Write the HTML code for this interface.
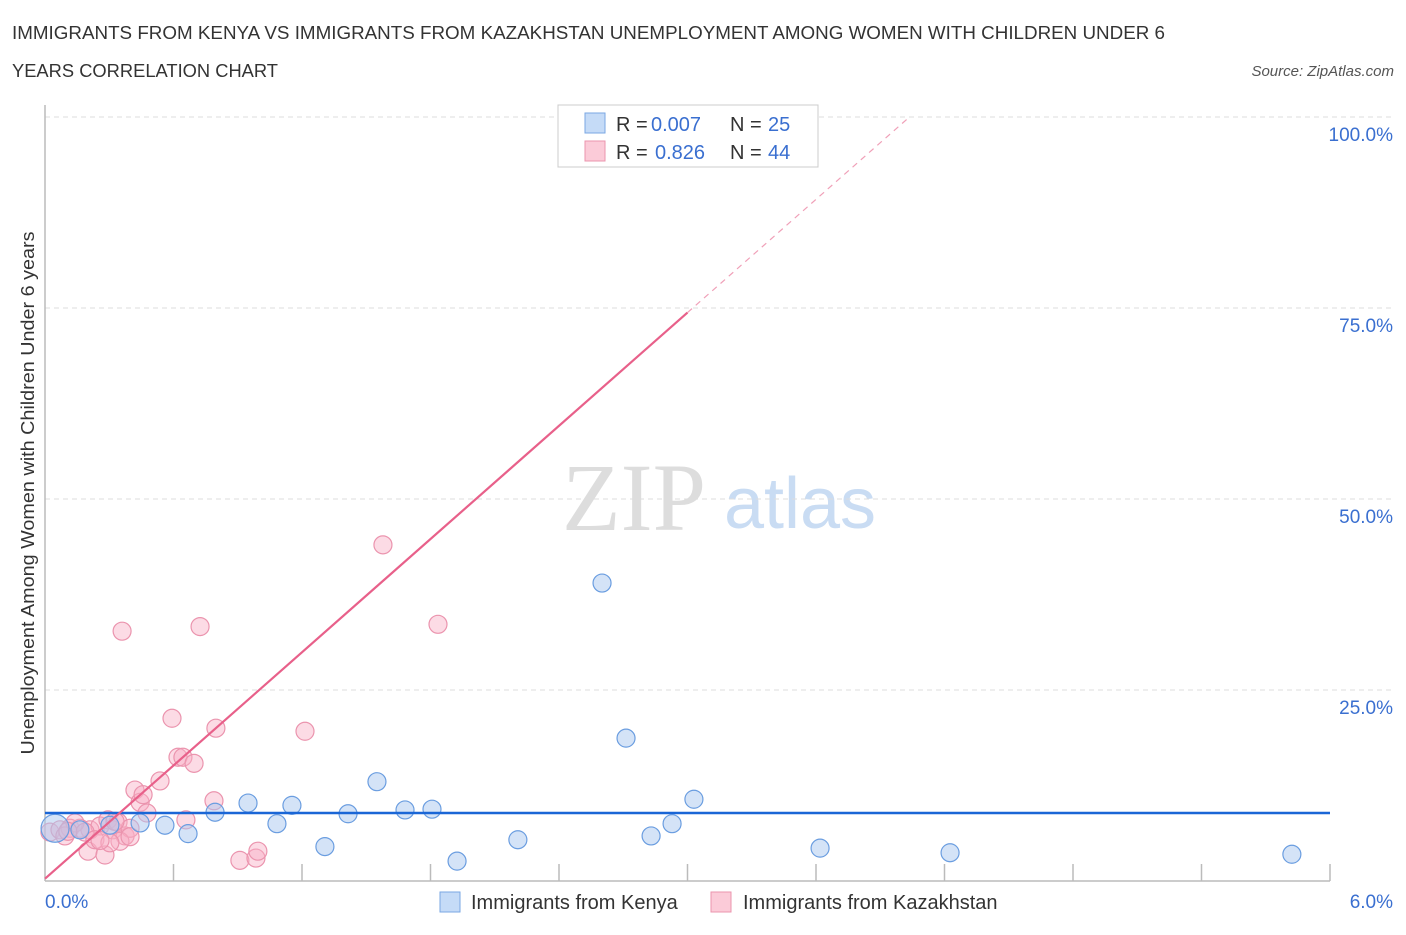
<!DOCTYPE html>
<html><head><meta charset="utf-8"><style>
body{margin:0;background:#fff;font-family:"Liberation Sans",sans-serif}
svg text{font-family:"Liberation Sans",sans-serif}
</style></head><body>
<svg id="c" width="1406" height="930" xmlns="http://www.w3.org/2000/svg">
<text x="12" y="39" font-size="18" fill="#333" textLength="1153" lengthAdjust="spacingAndGlyphs">IMMIGRANTS FROM KENYA VS IMMIGRANTS FROM KAZAKHSTAN UNEMPLOYMENT AMONG WOMEN WITH CHILDREN UNDER 6</text>
<text x="12" y="77" font-size="18" fill="#333" textLength="266" lengthAdjust="spacingAndGlyphs">YEARS CORRELATION CHART</text>
<text x="1394" y="76" font-size="15" fill="#555" font-style="italic" text-anchor="end">Source: ZipAtlas.com</text>
<text x="634" y="530" font-size="96" fill="#ddd" text-anchor="middle" style="font-family:'Liberation Serif',serif">ZIP</text>
<text x="800" y="528" font-size="72" fill="#c9dcf3" text-anchor="middle">atlas</text>
<g id="grid"></g>
<g id="marks"></g>
<text x="34" y="493" font-size="18" fill="#333" text-anchor="middle" textLength="523" lengthAdjust="spacingAndGlyphs" transform="rotate(-90 34 493)">Unemployment Among Women with Children Under 6 years</text>
<g>
<rect x="558" y="105" width="260" height="62" fill="#fff" stroke="#ccc"/>
<rect x="585" y="113" width="20" height="20" fill="#c5dbf7" stroke="#7aa7e3"/>
<text x="616" y="131" font-size="20" fill="#333">R =</text>
<text x="651" y="131" font-size="20" fill="#3a6fd0">0.007</text>
<text x="730" y="131" font-size="20" fill="#333">N =</text>
<text x="768" y="131" font-size="20" fill="#3a6fd0">25</text>
<rect x="585" y="141" width="20" height="20" fill="#fbcbd8" stroke="#eb94ae"/>
<text x="616" y="159" font-size="20" fill="#333">R =</text>
<text x="655" y="159" font-size="20" fill="#3a6fd0">0.826</text>
<text x="730" y="159" font-size="20" fill="#333">N =</text>
<text x="768" y="159" font-size="20" fill="#3a6fd0">44</text>
</g>
<g>
<rect x="440" y="892" width="20" height="20" fill="#c5dbf7" stroke="#7aa7e3"/>
<text x="471" y="909" font-size="20" fill="#333">Immigrants from Kenya</text>
<rect x="711" y="892" width="20" height="20" fill="#fbcbd8" stroke="#eb94ae"/>
<text x="743" y="909" font-size="20" fill="#333">Immigrants from Kazakhstan</text>
</g>
</svg>
<script>
const yTicks=[25,50,75,100];
const yTickLabels=["25.0%","50.0%","75.0%","100.0%"];
const xTickLabels=["0.0%","6.0%"];
const kenyaX=[0.047,0.163,0.303,0.444,0.560,0.668,0.794,0.948,1.083,1.153,1.307,1.415,1.550,1.681,1.807,1.924,2.208,2.601,2.713,2.830,2.928,3.030,3.619,4.226,5.822];
const kenyaY=[6.9,6.7,7.3,7.6,7.3,6.2,9.0,10.2,7.5,9.9,4.5,8.8,13.0,9.3,9.4,2.6,5.4,39.0,18.7,5.9,7.5,10.7,4.3,3.7,3.5];
const kazX=[0.023,0.070,0.117,0.163,0.210,0.257,0.140,0.187,0.294,0.201,0.233,0.280,0.317,0.341,0.360,0.374,0.397,0.420,0.444,0.458,0.476,0.537,0.593,0.621,0.644,0.696,0.724,0.658,0.789,0.798,0.910,0.985,0.994,1.214,1.578,1.835,2.918,0.093,0.350,0.397,0.303,0.257,0.327,0.107];
const kazY=[6.4,6.7,6.9,6.9,6.7,7.2,7.6,6.4,8.0,3.9,5.4,3.4,6.7,7.7,32.7,5.9,6.9,11.9,10.3,11.3,8.9,13.1,21.3,16.2,16.2,15.4,33.3,8.0,10.5,20.0,2.7,3.0,3.9,19.6,44.0,33.6,99.0,5.9,5.2,5.8,5.0,5.3,7.8,6.5];
const X0=45,X1=1330,Y0=881,Y100=117;
const sx=v=>X0+(v/6)*(X1-X0), sy=v=>Y0-(v/100)*(Y0-Y100);
const NS="http://www.w3.org/2000/svg";
function mk(tag,attrs,parent){const e=document.createElementNS(NS,tag);for(const k in attrs)e.setAttribute(k,attrs[k]);parent.appendChild(e);return e;}
const grid=document.getElementById('grid'), marks=document.getElementById('marks');
yTicks.forEach((t,i)=>{
 const g=mk('line',{x1:X0,x2:1395,y1:sy(t),y2:sy(t),stroke:'#ddd','stroke-dasharray':'5,4'},grid);
 
 
 const tx=mk('text',{x:1393,y:sy(t)+24,'font-size':19,fill:'#3a6fd0','text-anchor':'end'},grid);
 tx.textContent=yTickLabels[i];
 
 
});
const ax=mk('line',{x1:X0,x2:X0,y1:105,y2:Y0,stroke:'#bbb','stroke-width':1.5},grid);


const axx=mk('line',{x1:X0,x2:X1,y1:Y0,y2:Y0,stroke:'#bbb','stroke-width':1.5},grid);


for(let i=1;i<=10;i++){const x=X0+i*(X1-X0)/10;const t=mk('line',{x1:x,x2:x,y1:Y0-17,y2:Y0,stroke:'#bbb','stroke-width':1.5},grid);
 
 }
const xl0=mk('text',{x:45,y:908,'font-size':19,fill:'#3a6fd0'},grid);xl0.textContent=xTickLabels[0];


const xl1=mk('text',{x:1393,y:908,'font-size':19,fill:'#3a6fd0','text-anchor':'end'},grid);xl1.textContent=xTickLabels[1];


kazX.forEach((x,i)=>{const c=mk('circle',{cx:sx(x),cy:sy(kazY[i]),r:9,fill:'rgba(248,175,197,0.45)',stroke:'#eb94ae','stroke-width':1.2},marks);
 
 });
kenyaX.forEach((x,i)=>{const c=mk('circle',{cx:sx(x),cy:sy(kenyaY[i]),r:i==0?14:9,fill:'rgba(170,200,240,0.5)',stroke:'#6a9de0','stroke-width':1.2},marks);
 
 });
const kb=8.9;
const l1=mk('line',{x1:X0,x2:X1,y1:sy(kb),y2:sy(kb),stroke:'#1a66d6','stroke-width':2.5},marks);


const ka=0.3,kbs=24.7;
const l2=mk('line',{x1:sx(0),y1:sy(ka),x2:sx(3.0),y2:sy(ka+kbs*3.0),stroke:'#e8608a','stroke-width':2.2},marks);


const xe=(100-ka)/kbs;
const l3=mk('line',{x1:sx(3.0),y1:sy(ka+kbs*3.0),x2:sx(xe),y2:sy(100),stroke:'#f0a0b8','stroke-width':1.2,'stroke-dasharray':'6,5'},marks);


</script>
</body></html>
